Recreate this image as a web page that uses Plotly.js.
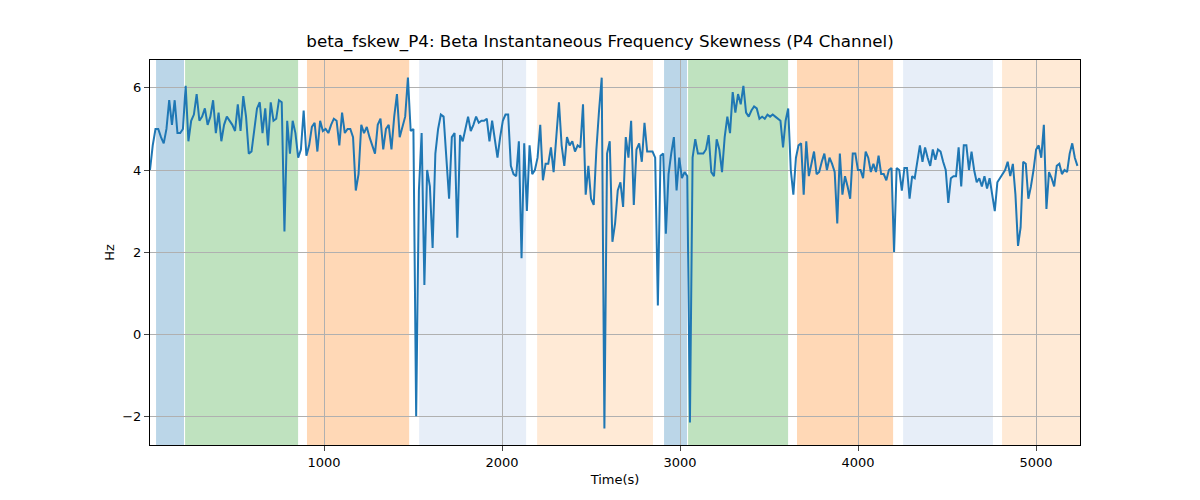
<!DOCTYPE html>
<html><head><meta charset="utf-8">
<script src="https://cdn.plot.ly/plotly-3.0.1.min.js"></script>
<style>body{margin:0}</style></head>
<body><div id="c" style="width:1200px;height:500px"></div>
<script>
const segA=[4.0,4.6,5.0,5.0,4.8,4.65,5.0,5.7,5.1,5.7,4.9,4.9,5.0,6.05,4.7,5.2,5.35,5.85,5.2,5.3,5.5,5.1,5.3,5.7,4.9,5.4,4.7,5.1,5.3,5.2,5.1,4.95,5.6,4.95,5.8,5.3,4.4,4.45,5.0,5.5,5.65,4.9,5.5,4.6,5.65,5.2,5.25,5.7,5.65,2.5,5.2,4.4,5.2,4.9,4.3,4.5,5.45,4.35,4.6,5.05,5.15,4.45,5.2,4.95,5.0,4.9,5.1,5.25,5.2,4.6,5.4,4.9,5.0,5.0,4.8,3.5,3.9,5.1,4.9,5.05,4.8,4.6,4.4,5.1,5.25,4.5,5.0,5.1,4.5,5.3,5.85,4.8,5.05,5.3,6.25,4.95,5.0,-2.0,3.5,4.9,1.2,4.0,3.6,2.1,4.4,5.0,5.35,5.3,4.3,3.3,4.8,4.9,2.35];
const segB=[4.85,4.7,5.0,5.3,4.95,5.1,5.3,5.15,5.2,5.2,5.25,4.7,5.2,4.75,4.3,4.8,5.2,5.35,5.35,4.1,3.9,3.85,4.7,1.85,4.65,3.0,4.6,3.9,4.0,4.3,5.1,3.75,4.15,4.15,4.55,3.95,4.9,5.65,4.6,4.1,4.8,4.6,4.7,4.45,4.6,4.55,5.6,3.4,4.1,3.3,3.15,4.5,5.45,6.25,-2.3,4.4,4.7,2.25,2.7,3.5,3.7,3.1,4.8,4.3,5.2,3.15,4.5,4.65,4.2,5.15,4.45,4.45,4.45,4.3,0.7,4.35,4.4,2.45,3.9,4.4,4.8,3.5,4.3,3.8,3.95,3.85,-2.15,4.3,4.75,4.4,4.4,4.4,4.5,4.85,3.95,3.85,4.75,4.5,3.95,4.8,5.3,4.9,5.9,5.4,5.85,5.6,6.05,5.4,5.3,5.45,5.55,5.5,5.25,5.3,5.25,5.35];
const segC=[5.3,5.35,5.3,5.25,5.2,4.55,5.2,5.5,4.0,3.4,4.3,4.6,4.65,3.4,4.7,3.85,4.2,4.45,3.9,3.95,4.2,4.4,4.0,4.3,4.15,3.95,2.7,4.4,3.4,3.85,3.6,3.3,4.4,4.4,4.0,4.0,3.8,4.45,4.3,3.95,4.15,3.95,4.35,3.9,3.9,3.75,4.0,4.05,2.0,4.05,4.0,3.5,4.05,4.05,3.3,3.85,3.8,4.2,4.6,4.2,4.55,4.3,4.1,4.5,4.25,4.5,4.45,4.2,4.0,3.2,3.8,3.85,3.85,4.55,3.6,4.6,4.6,4.0,4.45,4.0,3.7,3.8,3.6,3.85,3.55,3.8,3.4,3.0,3.7,3.8,3.9,4.0,4.2,3.85,4.15,3.4,2.15,2.6,4.2,4.15,3.3,3.6,4.0,4.5,4.6,4.3,5.1,3.05,3.95,3.8,3.6,4.1,4.15,3.9,4.0,3.95,4.4,4.65,4.3,4.1];
const segBounds=[[22,1764],[1764,3506],[3506,5247]];
const regions=[[56,213,'rgba(31,119,180,0.3)'],[219,854,'rgba(44,160,44,0.3)'],[904,1478,'rgba(255,127,14,0.3)'],[1534,2135,'rgba(174,199,232,0.3)'],[2197,2848,'rgba(255,187,120,0.3)'],[2910,3039,'rgba(31,119,180,0.3)'],[3045,3607,'rgba(44,160,44,0.3)'],[3657,4197,'rgba(255,127,14,0.3)'],[4253,4758,'rgba(174,199,232,0.3)'],[4809,5260,'rgba(255,187,120,0.3)']];
const xs=[],ys=[];
[segA,segB,segC].forEach((s,k)=>{const [a,b]=segBounds[k];const n=s.length;s.forEach((v,i)=>{xs.push(a+(b-a)*i/n);ys.push(v);});});
const shapes=regions.map(r=>({type:'rect',xref:'x',yref:'paper',x0:r[0],x1:r[1],y0:0,y1:1,fillcolor:r[2],line:{width:0},layer:'below'}));
Plotly.newPlot('c',[{x:xs,y:ys,type:'scatter',mode:'lines',line:{color:'#1f77b4',width:2}}],{
 width:1200,height:500,margin:{l:150,r:120,t:60,b:55},paper_bgcolor:'white',plot_bgcolor:'rgba(0,0,0,0)',
 font:{family:'DejaVu Sans',size:13,color:'black'},showlegend:false,shapes:shapes,
 title:{text:'beta_fskew_P4: Beta Instantaneous Frequency Skewness (P4 Channel)',x:0.5,y:0.93,font:{size:16.7}},
 xaxis:{range:[22,5247],tickvals:[1000,2000,3000,4000,5000],showgrid:true,gridcolor:'#b0b0b0',zeroline:false,showline:true,mirror:true,linecolor:'black',ticks:'outside',title:{text:'Time(s)',standoff:6,font:{size:13}}},
 yaxis:{range:[-2.7,6.68],tickvals:[-2,0,2,4,6],showgrid:true,gridcolor:'#b0b0b0',zeroline:false,showline:true,mirror:true,linecolor:'black',ticks:'outside',title:{text:'Hz',font:{size:13}}}
},{displayModeBar:false});
</script></body></html>
